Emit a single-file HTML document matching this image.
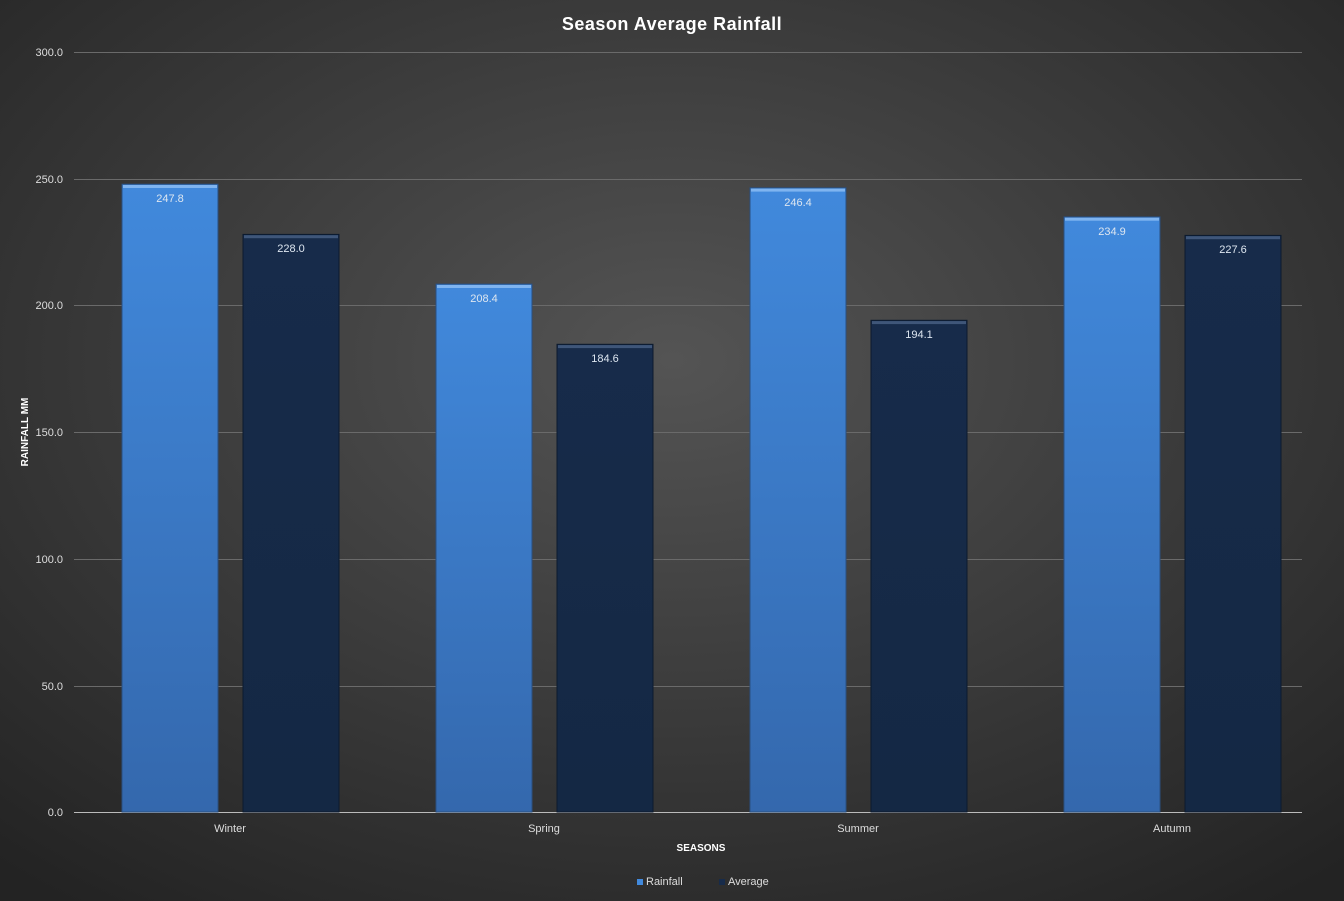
<!DOCTYPE html>
<html><head><meta charset="utf-8"><style>html,body{margin:0;padding:0;background:#333}svg{display:block}</style></head><body>
<svg width="1344" height="901" viewBox="0 0 1344 901" xmlns="http://www.w3.org/2000/svg" font-family="Liberation Sans, sans-serif">
<defs>
<radialGradient id="bg" cx="0.5" cy="0.4" r="0.75">
<stop offset="0" stop-color="#545454"/><stop offset="1" stop-color="#232323"/></radialGradient>
<linearGradient id="lb" x1="0" y1="0" x2="0" y2="1"><stop offset="0" stop-color="#4189dc"/><stop offset="1" stop-color="#3468ad"/></linearGradient>
<linearGradient id="db" x1="0" y1="0" x2="0" y2="1"><stop offset="0" stop-color="#172b4a"/><stop offset="1" stop-color="#142844"/></linearGradient>
</defs>
<rect width="1344" height="901" fill="url(#bg)"/>
<g stroke="#6a6a6a" stroke-width="1">
<line x1="74" x2="1302" y1="52.5" y2="52.5"/><line x1="74" x2="1302" y1="179.5" y2="179.5"/>
<line x1="74" x2="1302" y1="305.5" y2="305.5"/><line x1="74" x2="1302" y1="432.5" y2="432.5"/>
<line x1="74" x2="1302" y1="559.5" y2="559.5"/><line x1="74" x2="1302" y1="686.5" y2="686.5"/>
</g>
<line x1="74" x2="1302" y1="812.5" y2="812.5" stroke="#bbb"/>
<g fill="#ddd" font-size="11" text-anchor="end">
<text x="63" y="56">300.0</text><text x="63" y="183">250.0</text><text x="63" y="309">200.0</text>
<text x="63" y="436">150.0</text><text x="63" y="563">100.0</text><text x="63" y="690">50.0</text><text x="63" y="816">0.0</text>
</g>
<text x="672" y="30" fill="#fff" font-size="18" font-weight="bold" text-anchor="middle" letter-spacing="0.5">Season Average Rainfall</text>
<text transform="translate(28,432) rotate(-90)" fill="#fff" font-size="10" font-weight="bold" text-anchor="middle">RAINFALL MM</text>
<text x="701" y="851" fill="#fff" font-size="10" font-weight="bold" text-anchor="middle">SEASONS</text>
<g fill="#ddd" font-size="11" text-anchor="middle">
<text x="230" y="832">Winter</text><text x="544" y="832">Spring</text><text x="858" y="832">Summer</text><text x="1172" y="832">Autumn</text>
</g>
<g stroke="#2a4f80" stroke-width="1">
<rect x="122" y="184.2" width="96" height="627.8" fill="url(#lb)"/>
<rect x="436" y="284.1" width="96" height="527.9" fill="url(#lb)"/>
<rect x="750" y="187.8" width="96" height="624.2" fill="url(#lb)"/>
<rect x="1064" y="216.9" width="96" height="595.1" fill="url(#lb)"/>
</g>
<g stroke="#0c1a2e" stroke-width="1">
<rect x="243" y="234.4" width="96" height="577.6" fill="url(#db)"/>
<rect x="557" y="344.3" width="96" height="467.7" fill="url(#db)"/>
<rect x="871" y="320.3" width="96" height="491.7" fill="url(#db)"/>
<rect x="1185" y="235.4" width="96" height="576.6" fill="url(#db)"/>
</g>
<g fill="#8fbff5" opacity="0.8">
<rect x="123" y="185" width="94" height="3"/><rect x="437" y="285" width="94" height="3"/>
<rect x="751" y="188.6" width="94" height="3"/><rect x="1065" y="217.7" width="94" height="3"/>
</g>
<g fill="#4a6285" opacity="0.8">
<rect x="244" y="235.2" width="94" height="3"/><rect x="558" y="345.1" width="94" height="3"/>
<rect x="872" y="321.1" width="94" height="3"/><rect x="1186" y="236.2" width="94" height="3"/>
</g>
<g fill="#dde6f0" font-size="11" text-anchor="middle">
<text x="170" y="202">247.8</text><text x="291" y="252">228.0</text>
<text x="484" y="302">208.4</text><text x="605" y="362">184.6</text>
<text x="798" y="206">246.4</text><text x="919" y="338">194.1</text>
<text x="1112" y="235">234.9</text><text x="1233" y="253">227.6</text>
</g>
<rect x="637" y="879" width="6" height="6" fill="#4189dc"/>
<text x="646" y="885" fill="#ddd" font-size="11">Rainfall</text>
<rect x="719" y="879" width="6" height="6" fill="#172b4a"/>
<text x="728" y="885" fill="#ddd" font-size="11">Average</text>
</svg>
</body></html>
